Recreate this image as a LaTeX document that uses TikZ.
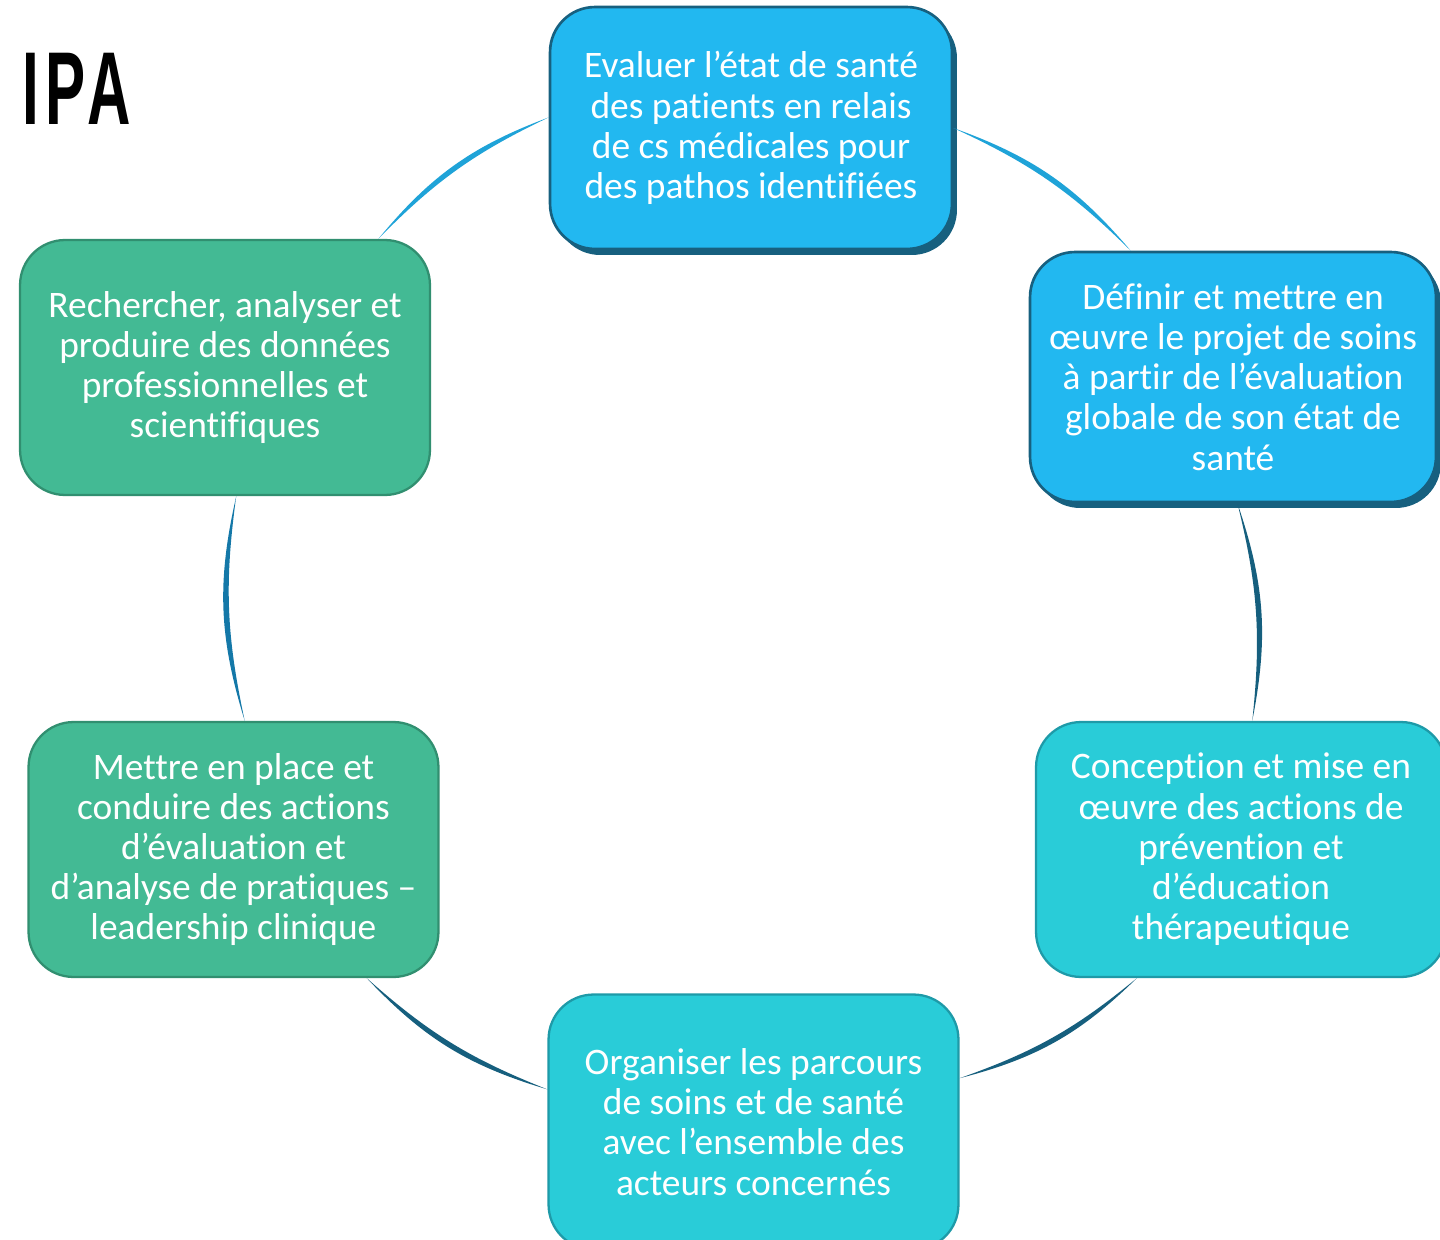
\documentclass[tikz,border=0pt]{standalone}
\usepackage{fontspec}
\setmainfont{Carlito}[Ligatures=NoCommon]
\newfontfamily\titlefont[FakeStretch=0.58, LetterSpace=6]{Liberation Sans Bold}
\usetikzlibrary{shadows}
\definecolor{boxblue}{HTML}{22B8F0}
\definecolor{blueedge}{HTML}{17607F}
\definecolor{boxteal}{HTML}{29CCD8}
\definecolor{tealedge}{HTML}{1E9AA8}
\definecolor{boxgreen}{HTML}{43BA94}
\definecolor{greenedge}{HTML}{318F70}
\definecolor{linkblue}{HTML}{1FA3D8}
\definecolor{linkdeep}{HTML}{165F7E}
\definecolor{linkmid}{HTML}{1478A8}
\tikzset{
  box/.style={rounded corners=0.9cm, minimum width=8.2cm, minimum height=5.1cm,
    align=center, text=white, inner sep=0pt, font=\fontsize{21.3}{22.9}\selectfont},
  bluebox/.style={box, fill=boxblue, draw=blueedge, line width=1.5pt,
    drop shadow={shadow xshift=0.1cm, shadow yshift=-0.12cm, fill=blueedge, opacity=1}},
  tealbox/.style={box, fill=boxteal, draw=tealedge, line width=1.3pt},
  greenbox/.style={box, fill=boxgreen, draw=greenedge, line width=1.3pt}
}
\begin{document}
\begin{tikzpicture}[x=0.02cm, y=-0.02cm, line join=round]
	\useasboundingbox (0,0) rectangle (1440,1240);
	\node[anchor=base west, inner sep=0pt, font=\titlefont\fontsize{59}{59}\selectfont] (title) at (22,125) {IPA};
	% the six missions, clockwise from the top
	\node[bluebox, minimum width=8.04cm, minimum height=4.84cm] (eval) at (751,128)
		{Evaluer l’état de santé\\des patients en relais\\de cs médicales pour\\des pathos identifiées};
	\node[bluebox, minimum width=8.12cm, minimum height=5.0cm] (projet) at (1233,377)
		{Définir et mettre en\\œuvre le projet de soins\\à partir de l’évaluation\\globale de son état de\\santé};
	\node[tealbox] (prev) at (1241,849.5)
		{Conception et mise en\\œuvre des actions de\\prévention et\\d’éducation\\thérapeutique};
	\node[tealbox] (parcours) at (753.5,1122)
		{Organiser les parcours\\de soins et de santé\\avec l’ensemble des\\acteurs concernés};
	\node[greenbox] (pratiques) at (233.5,849.5)
		{Mettre en place et\\conduire des actions\\d’évaluation et\\d’analyse de pratiques –\\leadership clinique};
	\node[greenbox] (recherche) at (225,367.5)
		{Rechercher, analyser et\\produire des données\\professionnelles et\\scientifiques};
	% tapered arcs of the cycle
	\foreach \p/\q/\col in {eval.0/projet.129/linkblue, projet.-88/prev.85/linkdeep,
		prev.-129/parcours.12/linkdeep, parcours.171/pratiques.-44/linkdeep,
		pratiques.85/recherche.-85/linkmid, recherche.40/eval.177/linkblue}
	\fill[\col] (\p) to[bend left=15] (\q) to[bend right=10] (\p) -- cycle;
\end{tikzpicture}
\end{document}
